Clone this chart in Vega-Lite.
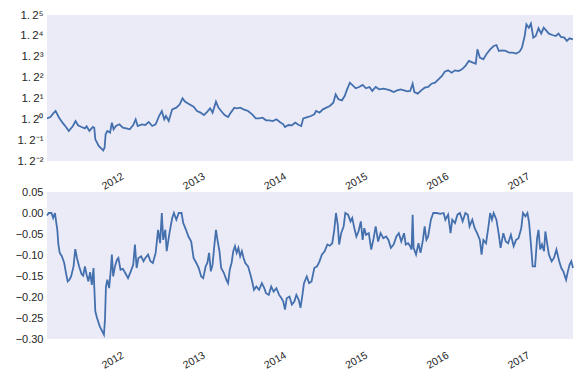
{
"$schema": "https://vega.github.io/schema/vega-lite/v6.json",
"background": "white",
"padding": {"left": 15, "top": 9, "right": 12, "bottom": 5},
"bounds": "flush",
"spacing": 31,
"config": {
  "view": {"fill": "#EBEBF7", "stroke": null},
  "axis": {"grid": false, "domain": false, "ticks": false, "tickSize": 0, "labelFont": "Liberation Sans", "labelFontSize": 10.5, "labelColor": "#262626"}
},
"datasets": {
"cum": [
{"t":2011.193,"v":1.008},{"t":2011.235,"v":1.020},{"t":2011.278,"v":1.060},{"t":2011.299,"v":1.075},{"t":2011.342,"v":1.014},{"t":2011.384,"v":0.971},{"t":2011.427,"v":0.935},{"t":2011.461,"v":0.903},{"t":2011.512,"v":0.943},{"t":2011.545,"v":0.985},{"t":2011.575,"v":0.949},{"t":2011.618,"v":0.935},{"t":2011.660,"v":0.924},{"t":2011.681,"v":0.940},{"t":2011.715,"v":0.903},{"t":2011.758,"v":0.935},{"t":2011.775,"v":0.929},{"t":2011.788,"v":0.839},{"t":2011.830,"v":0.792},{"t":2011.873,"v":0.769},{"t":2011.885,"v":0.762},{"t":2011.902,"v":0.780},{"t":2011.915,"v":0.877},{"t":2011.936,"v":0.903},{"t":2011.970,"v":0.890},{"t":2011.992,"v":0.971},{"t":2012.013,"v":0.916},{"t":2012.042,"v":0.943},{"t":2012.085,"v":0.957},{"t":2012.127,"v":0.929},{"t":2012.170,"v":0.924},{"t":2012.212,"v":0.916},{"t":2012.255,"v":0.951},{"t":2012.285,"v":1.000},{"t":2012.310,"v":0.943},{"t":2012.361,"v":0.957},{"t":2012.404,"v":0.951},{"t":2012.446,"v":0.977},{"t":2012.489,"v":0.943},{"t":2012.531,"v":0.957},{"t":2012.573,"v":1.029},{"t":2012.607,"v":1.075},{"t":2012.637,"v":1.000},{"t":2012.658,"v":1.029},{"t":2012.692,"v":0.985},{"t":2012.735,"v":1.091},{"t":2012.786,"v":1.107},{"t":2012.828,"v":1.140},{"t":2012.862,"v":1.201},{"t":2012.892,"v":1.167},{"t":2012.935,"v":1.146},{"t":2012.998,"v":1.117},{"t":2013.041,"v":1.075},{"t":2013.083,"v":1.060},{"t":2013.126,"v":1.038},{"t":2013.168,"v":1.069},{"t":2013.202,"v":1.101},{"t":2013.232,"v":1.060},{"t":2013.274,"v":1.167},{"t":2013.304,"v":1.107},{"t":2013.338,"v":1.075},{"t":2013.381,"v":1.038},{"t":2013.423,"v":1.020},{"t":2013.457,"v":1.060},{"t":2013.500,"v":1.107},{"t":2013.529,"v":1.101},{"t":2013.572,"v":1.107},{"t":2013.614,"v":1.091},{"t":2013.669,"v":1.075},{"t":2013.720,"v":1.044},{"t":2013.763,"v":1.008},{"t":2013.805,"v":1.008},{"t":2013.848,"v":1.014},{"t":2013.890,"v":0.991},{"t":2013.933,"v":0.991},{"t":2013.975,"v":0.985},{"t":2014.018,"v":1.000},{"t":2014.060,"v":0.977},{"t":2014.103,"v":0.957},{"t":2014.124,"v":0.935},{"t":2014.166,"v":0.951},{"t":2014.209,"v":0.949},{"t":2014.251,"v":0.971},{"t":2014.294,"v":0.951},{"t":2014.324,"v":0.943},{"t":2014.349,"v":1.008},{"t":2014.400,"v":1.020},{"t":2014.443,"v":1.029},{"t":2014.485,"v":1.044},{"t":2014.506,"v":1.075},{"t":2014.549,"v":1.060},{"t":2014.591,"v":1.091},{"t":2014.634,"v":1.107},{"t":2014.676,"v":1.123},{"t":2014.719,"v":1.156},{"t":2014.748,"v":1.244},{"t":2014.782,"v":1.191},{"t":2014.825,"v":1.180},{"t":2014.859,"v":1.226},{"t":2014.889,"v":1.299},{"t":2014.923,"v":1.377},{"t":2014.952,"v":1.350},{"t":2014.995,"v":1.311},{"t":2015.037,"v":1.326},{"t":2015.080,"v":1.350},{"t":2015.122,"v":1.311},{"t":2015.165,"v":1.326},{"t":2015.199,"v":1.281},{"t":2015.241,"v":1.326},{"t":2015.284,"v":1.299},{"t":2015.335,"v":1.307},{"t":2015.377,"v":1.299},{"t":2015.420,"v":1.288},{"t":2015.462,"v":1.269},{"t":2015.505,"v":1.288},{"t":2015.547,"v":1.299},{"t":2015.590,"v":1.288},{"t":2015.632,"v":1.277},{"t":2015.666,"v":1.281},{"t":2015.696,"v":1.365},{"t":2015.717,"v":1.269},{"t":2015.759,"v":1.251},{"t":2015.802,"v":1.288},{"t":2015.844,"v":1.318},{"t":2015.887,"v":1.326},{"t":2015.929,"v":1.365},{"t":2015.972,"v":1.377},{"t":2016.014,"v":1.418},{"t":2016.057,"v":1.460},{"t":2016.091,"v":1.516},{"t":2016.133,"v":1.534},{"t":2016.176,"v":1.503},{"t":2016.218,"v":1.534},{"t":2016.261,"v":1.525},{"t":2016.303,"v":1.548},{"t":2016.346,"v":1.593},{"t":2016.388,"v":1.665},{"t":2016.439,"v":1.640},{"t":2016.473,"v":1.626},{"t":2016.494,"v":1.843},{"t":2016.524,"v":1.714},{"t":2016.567,"v":1.689},{"t":2016.609,"v":1.775},{"t":2016.651,"v":1.843},{"t":2016.694,"v":1.898},{"t":2016.728,"v":1.914},{"t":2016.758,"v":1.817},{"t":2016.800,"v":1.827},{"t":2016.843,"v":1.817},{"t":2016.885,"v":1.790},{"t":2016.928,"v":1.790},{"t":2016.970,"v":1.775},{"t":2017.013,"v":1.806},{"t":2017.042,"v":1.870},{"t":2017.076,"v":2.071},{"t":2017.097,"v":2.293},{"t":2017.127,"v":2.227},{"t":2017.153,"v":2.307},{"t":2017.182,"v":2.041},{"t":2017.212,"v":2.071},{"t":2017.246,"v":2.215},{"t":2017.280,"v":2.114},{"t":2017.310,"v":2.227},{"t":2017.340,"v":2.176},{"t":2017.374,"v":2.114},{"t":2017.416,"v":2.089},{"t":2017.459,"v":2.071},{"t":2017.493,"v":2.114},{"t":2017.522,"v":2.053},{"t":2017.565,"v":2.041},{"t":2017.595,"v":1.983},{"t":2017.629,"v":2.029},{"t":2017.671,"v":2.012}
],
"dd": [
{"t":2011.193,"v":-0.006},{"t":2011.214,"v":0},{"t":2011.248,"v":0},{"t":2011.269,"v":-0.012},{"t":2011.291,"v":0},{"t":2011.308,"v":-0.024},{"t":2011.320,"v":-0.040},{"t":2011.333,"v":-0.075},{"t":2011.350,"v":-0.095},{"t":2011.376,"v":-0.103},{"t":2011.405,"v":-0.119},{"t":2011.427,"v":-0.143},{"t":2011.448,"v":-0.163},{"t":2011.469,"v":-0.159},{"t":2011.490,"v":-0.151},{"t":2011.520,"v":-0.127},{"t":2011.541,"v":-0.086},{"t":2011.562,"v":-0.107},{"t":2011.588,"v":-0.127},{"t":2011.618,"v":-0.145},{"t":2011.639,"v":-0.149},{"t":2011.660,"v":-0.127},{"t":2011.681,"v":-0.147},{"t":2011.703,"v":-0.163},{"t":2011.724,"v":-0.141},{"t":2011.745,"v":-0.171},{"t":2011.766,"v":-0.131},{"t":2011.775,"v":-0.175},{"t":2011.788,"v":-0.234},{"t":2011.809,"v":-0.250},{"t":2011.843,"v":-0.270},{"t":2011.873,"v":-0.282},{"t":2011.894,"v":-0.290},{"t":2011.907,"v":-0.254},{"t":2011.919,"v":-0.175},{"t":2011.936,"v":-0.159},{"t":2011.958,"v":-0.179},{"t":2011.979,"v":-0.135},{"t":2011.992,"v":-0.099},{"t":2012.008,"v":-0.151},{"t":2012.030,"v":-0.127},{"t":2012.055,"v":-0.111},{"t":2012.072,"v":-0.107},{"t":2012.098,"v":-0.135},{"t":2012.127,"v":-0.133},{"t":2012.157,"v":-0.143},{"t":2012.191,"v":-0.155},{"t":2012.225,"v":-0.139},{"t":2012.255,"v":-0.123},{"t":2012.276,"v":-0.075},{"t":2012.297,"v":-0.131},{"t":2012.319,"v":-0.107},{"t":2012.353,"v":-0.103},{"t":2012.382,"v":-0.115},{"t":2012.404,"v":-0.107},{"t":2012.438,"v":-0.099},{"t":2012.467,"v":-0.115},{"t":2012.497,"v":-0.119},{"t":2012.531,"v":-0.095},{"t":2012.561,"v":-0.040},{"t":2012.586,"v":-0.072},{"t":2012.607,"v":0},{"t":2012.624,"v":-0.064},{"t":2012.650,"v":-0.040},{"t":2012.667,"v":-0.091},{"t":2012.701,"v":-0.048},{"t":2012.735,"v":-0.012},{"t":2012.756,"v":0},{"t":2012.786,"v":-0.016},{"t":2012.816,"v":0},{"t":2012.850,"v":0},{"t":2012.871,"v":-0.024},{"t":2012.905,"v":-0.040},{"t":2012.935,"v":-0.056},{"t":2012.969,"v":-0.068},{"t":2012.998,"v":-0.107},{"t":2013.032,"v":-0.119},{"t":2013.062,"v":-0.131},{"t":2013.092,"v":-0.151},{"t":2013.117,"v":-0.155},{"t":2013.147,"v":-0.127},{"t":2013.168,"v":-0.119},{"t":2013.189,"v":-0.095},{"t":2013.211,"v":-0.139},{"t":2013.232,"v":-0.123},{"t":2013.253,"v":-0.079},{"t":2013.274,"v":-0.040},{"t":2013.296,"v":-0.068},{"t":2013.317,"v":-0.091},{"t":2013.338,"v":-0.131},{"t":2013.372,"v":-0.143},{"t":2013.402,"v":-0.159},{"t":2013.423,"v":-0.167},{"t":2013.444,"v":-0.135},{"t":2013.466,"v":-0.119},{"t":2013.487,"v":-0.091},{"t":2013.508,"v":-0.079},{"t":2013.529,"v":-0.095},{"t":2013.550,"v":-0.083},{"t":2013.572,"v":-0.103},{"t":2013.593,"v":-0.091},{"t":2013.614,"v":-0.107},{"t":2013.635,"v":-0.119},{"t":2013.669,"v":-0.127},{"t":2013.699,"v":-0.147},{"t":2013.720,"v":-0.163},{"t":2013.742,"v":-0.183},{"t":2013.771,"v":-0.175},{"t":2013.805,"v":-0.183},{"t":2013.839,"v":-0.167},{"t":2013.869,"v":-0.179},{"t":2013.890,"v":-0.191},{"t":2013.924,"v":-0.195},{"t":2013.954,"v":-0.175},{"t":2013.984,"v":-0.187},{"t":2014.018,"v":-0.179},{"t":2014.052,"v":-0.195},{"t":2014.081,"v":-0.203},{"t":2014.103,"v":-0.211},{"t":2014.124,"v":-0.230},{"t":2014.145,"v":-0.203},{"t":2014.179,"v":-0.199},{"t":2014.209,"v":-0.218},{"t":2014.239,"v":-0.211},{"t":2014.264,"v":-0.195},{"t":2014.294,"v":-0.207},{"t":2014.315,"v":-0.226},{"t":2014.336,"v":-0.199},{"t":2014.358,"v":-0.167},{"t":2014.392,"v":-0.151},{"t":2014.421,"v":-0.167},{"t":2014.451,"v":-0.163},{"t":2014.485,"v":-0.131},{"t":2014.519,"v":-0.127},{"t":2014.549,"v":-0.115},{"t":2014.578,"v":-0.099},{"t":2014.612,"v":-0.091},{"t":2014.646,"v":-0.075},{"t":2014.676,"v":-0.078},{"t":2014.706,"v":-0.072},{"t":2014.731,"v":-0.040},{"t":2014.752,"v":0},{"t":2014.774,"v":-0.028},{"t":2014.791,"v":-0.075},{"t":2014.816,"v":-0.048},{"t":2014.846,"v":-0.032},{"t":2014.867,"v":0},{"t":2014.901,"v":-0.004},{"t":2014.931,"v":-0.020},{"t":2014.952,"v":-0.012},{"t":2014.978,"v":-0.036},{"t":2015.003,"v":-0.056},{"t":2015.029,"v":-0.044},{"t":2015.058,"v":-0.020},{"t":2015.080,"v":-0.064},{"t":2015.101,"v":-0.036},{"t":2015.122,"v":-0.052},{"t":2015.156,"v":-0.048},{"t":2015.186,"v":-0.087},{"t":2015.216,"v":-0.060},{"t":2015.241,"v":-0.032},{"t":2015.271,"v":-0.068},{"t":2015.301,"v":-0.048},{"t":2015.335,"v":-0.060},{"t":2015.369,"v":-0.056},{"t":2015.398,"v":-0.064},{"t":2015.428,"v":-0.083},{"t":2015.462,"v":-0.075},{"t":2015.496,"v":-0.056},{"t":2015.526,"v":-0.048},{"t":2015.556,"v":-0.068},{"t":2015.590,"v":-0.048},{"t":2015.611,"v":-0.075},{"t":2015.640,"v":-0.072},{"t":2015.666,"v":-0.079},{"t":2015.683,"v":-0.087},{"t":2015.696,"v":-0.004},{"t":2015.708,"v":-0.083},{"t":2015.738,"v":-0.099},{"t":2015.768,"v":-0.072},{"t":2015.793,"v":-0.095},{"t":2015.823,"v":-0.064},{"t":2015.844,"v":-0.032},{"t":2015.866,"v":-0.064},{"t":2015.887,"v":-0.056},{"t":2015.921,"v":-0.016},{"t":2015.950,"v":0},{"t":2015.993,"v":0},{"t":2016.036,"v":-0.002},{"t":2016.078,"v":0},{"t":2016.099,"v":-0.016},{"t":2016.133,"v":-0.004},{"t":2016.163,"v":-0.048},{"t":2016.184,"v":-0.016},{"t":2016.218,"v":-0.024},{"t":2016.248,"v":-0.004},{"t":2016.278,"v":0},{"t":2016.312,"v":-0.020},{"t":2016.346,"v":0},{"t":2016.375,"v":-0.004},{"t":2016.397,"v":-0.032},{"t":2016.431,"v":-0.016},{"t":2016.460,"v":-0.036},{"t":2016.490,"v":-0.048},{"t":2016.524,"v":-0.064},{"t":2016.545,"v":-0.099},{"t":2016.567,"v":-0.064},{"t":2016.600,"v":-0.072},{"t":2016.630,"v":-0.032},{"t":2016.651,"v":0},{"t":2016.673,"v":-0.016},{"t":2016.694,"v":0},{"t":2016.728,"v":-0.016},{"t":2016.758,"v":-0.052},{"t":2016.779,"v":-0.083},{"t":2016.813,"v":-0.048},{"t":2016.843,"v":-0.068},{"t":2016.872,"v":-0.072},{"t":2016.906,"v":-0.052},{"t":2016.940,"v":-0.079},{"t":2016.970,"v":-0.064},{"t":2017.000,"v":-0.060},{"t":2017.034,"v":-0.036},{"t":2017.055,"v":0},{"t":2017.085,"v":-0.008},{"t":2017.110,"v":0},{"t":2017.131,"v":-0.024},{"t":2017.153,"v":-0.075},{"t":2017.174,"v":-0.127},{"t":2017.204,"v":-0.127},{"t":2017.229,"v":-0.060},{"t":2017.246,"v":-0.040},{"t":2017.267,"v":-0.087},{"t":2017.289,"v":-0.075},{"t":2017.314,"v":-0.091},{"t":2017.331,"v":-0.044},{"t":2017.352,"v":-0.072},{"t":2017.374,"v":-0.099},{"t":2017.408,"v":-0.115},{"t":2017.437,"v":-0.107},{"t":2017.467,"v":-0.087},{"t":2017.501,"v":-0.115},{"t":2017.527,"v":-0.131},{"t":2017.552,"v":-0.139},{"t":2017.586,"v":-0.159},{"t":2017.608,"v":-0.139},{"t":2017.629,"v":-0.123},{"t":2017.650,"v":-0.115},{"t":2017.671,"v":-0.131}
]
},
"vconcat": [
{
  "width": 526, "height": 146,
  "data": {"name": "cum"},
  "mark": {"type": "line", "color": "#4470AE", "strokeWidth": 1.8},
  "encoding": {
    "x": {"field": "t", "type": "quantitative", "title": null,
      "scale": {"domain": [2011.193, 2017.671], "nice": false, "zero": false},
      "axis": {"values": [2012, 2013, 2014, 2015, 2016, 2017], "format": "d", "labelAngle": -30, "labelAlign": "center", "labelBaseline": "middle", "labelPadding": 20}},
    "y": {"field": "v", "type": "quantitative", "title": null,
      "scale": {"type": "log", "base": 1.2, "domain": [0.694444, 2.48832], "nice": false},
      "axis": {"values": [0.694444, 0.833333, 1, 1.2, 1.44, 1.728, 2.0736, 2.48832], "labelPadding": 4, "labelFontSize": 11.5,
        "labelExpr": "'1.\u20092' + ['⁻²','⁻¹','⁰','¹','²','³','⁴','⁵'][round(log(datum.value)/log(1.2)) + 2]"}}
  }
},
{
  "width": 526, "height": 147,
  "data": {"name": "dd"},
  "mark": {"type": "line", "color": "#4470AE", "strokeWidth": 1.8},
  "encoding": {
    "x": {"field": "t", "type": "quantitative", "title": null,
      "scale": {"domain": [2011.193, 2017.671], "nice": false, "zero": false},
      "axis": {"values": [2012, 2013, 2014, 2015, 2016, 2017], "format": "d", "labelAngle": -30, "labelAlign": "center", "labelBaseline": "middle", "labelPadding": 21}},
    "y": {"field": "v", "type": "quantitative", "title": null,
      "scale": {"domain": [-0.3, 0.05], "nice": false, "zero": false},
      "axis": {"values": [-0.3, -0.25, -0.2, -0.15, -0.1, -0.05, 0, 0.05], "format": ".2f", "labelPadding": 4, "labelFontSize": 11}}
  }
}
]
}
